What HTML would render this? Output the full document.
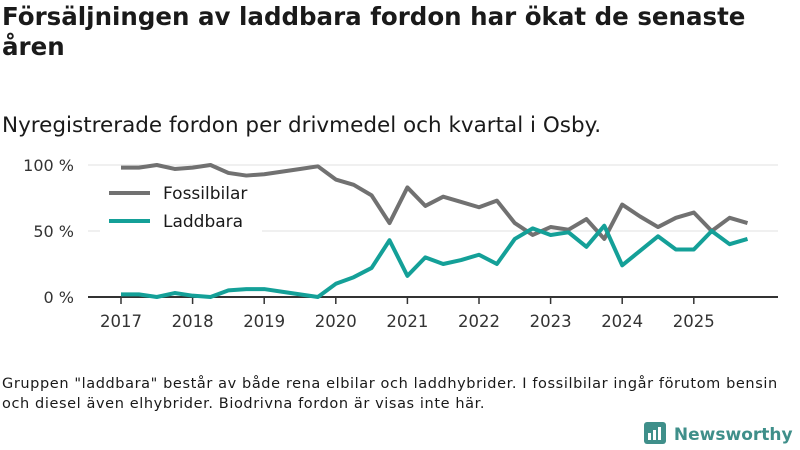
<!DOCTYPE html>
<html><head><meta charset="utf-8"><style>
body{margin:0;width:800px;height:450px;background:#fff;font-family:"DejaVu Sans","Liberation Sans",sans-serif;color:#1a1a1a;overflow:hidden;position:relative}
.t{position:absolute;left:2px;top:2px;font-size:24.5px;font-weight:bold;line-height:30px;white-space:nowrap}
.s{position:absolute;left:2px;top:113px;font-size:21.5px;white-space:nowrap}
.n{position:absolute;left:2px;top:374px;font-size:14.5px;letter-spacing:0.6px;line-height:20px;white-space:nowrap}
.logo{position:absolute;left:644px;top:420px;font-size:17px;font-weight:bold;color:#3f8f8a;white-space:nowrap}
</style></head><body>
<div class="t">Försäljningen av laddbara fordon har ökat de senaste<br>åren</div>
<div class="s">Nyregistrerade fordon per drivmedel och kvartal i Osby.</div>
<svg id="c" width="800" height="450" style="position:absolute;left:0;top:0"></svg>
<div class="n">Gruppen "laddbara" består av både rena elbilar och laddhybrider. I fossilbilar ingår förutom bensin<br>och diesel även elhybrider. Biodrivna fordon är visas inte här.</div>
<div class="logo"><svg width="24" height="26" style="vertical-align:-6px"><rect x="0" y="2" width="22" height="22" rx="3" fill="#3f8f8a"/><rect x="4" y="13" width="3" height="7" fill="#fff"/><rect x="9" y="10" width="3" height="10" fill="#fff"/><rect x="14" y="7" width="3" height="13" fill="#fff"/></svg> Newsworthy</div>
<script>
const years=[2017,2018,2019,2020,2021,2022,2023,2024,2025];
const yTicks=[0,50,100];
const fossil=[98,98,100,97,98,100,94,92,93,95,97,99,89,85,77,56,83,69,76,72,68,73,56,47,53,51,59,44,70,61,53,60,64,50,60,56];
const laddbara=[2,2,0,3,1,0,5,6,6,4,2,0,10,15,22,43,16,30,25,28,32,25,44,52,47,49,38,54,24,35,46,36,36,50,40,44];
const svg=document.getElementById('c'),NS='http://www.w3.org/2000/svg';
const x=t=>121+(t-2017)*71.6, y=v=>297-v*1.32;
function el(n,a,p){const e=document.createElementNS(NS,n);for(const k in a)e.setAttribute(k,a[k]);(p||svg).appendChild(e);return e;}
yTicks.forEach(v=>{
 const g=el('line',{x1:88,x2:778,y1:y(v),y2:y(v),stroke:v?'#e0e0e0':'#333','stroke-width':v?1:2});
 
 
 const t=el('text',{x:74,y:y(v)+6,'text-anchor':'end','font-size':16,fill:'#333'});t.textContent=v+' %';
 
 
});
years.forEach(yr=>{
 const k=el('line',{x1:x(yr),x2:x(yr),y1:297,y2:304,stroke:'#333','stroke-width':1.5});
 
 
 const t=el('text',{x:x(yr),y:327,'text-anchor':'middle','font-size':16.5,fill:'#333'});t.textContent=yr;
 
 
});
const lg=el('rect',{x:100,y:178,width:162,height:58,fill:'#fff'});


function series(d,col,name){
 const p=el('polyline',{points:d.map((v,i)=>x(2017+i/4)+','+y(v)).join(' '),fill:'none',stroke:col,'stroke-width':4,'stroke-linejoin':'round'});
 
 
}
series(fossil,'#717171','fossilbilar');
series(laddbara,'#14a098','laddbara');
[['Fossilbilar','#717171',193],['Laddbara','#14a098',221]].forEach(([n,c,yy])=>{
 const l=el('line',{x1:109,x2:150,y1:yy,y2:yy,stroke:c,'stroke-width':4});
 
 
 const t=el('text',{x:163,y:yy+6,'font-size':17,fill:'#1a1a1a'});t.textContent=n;
 
 
});
</script>
</body></html>
